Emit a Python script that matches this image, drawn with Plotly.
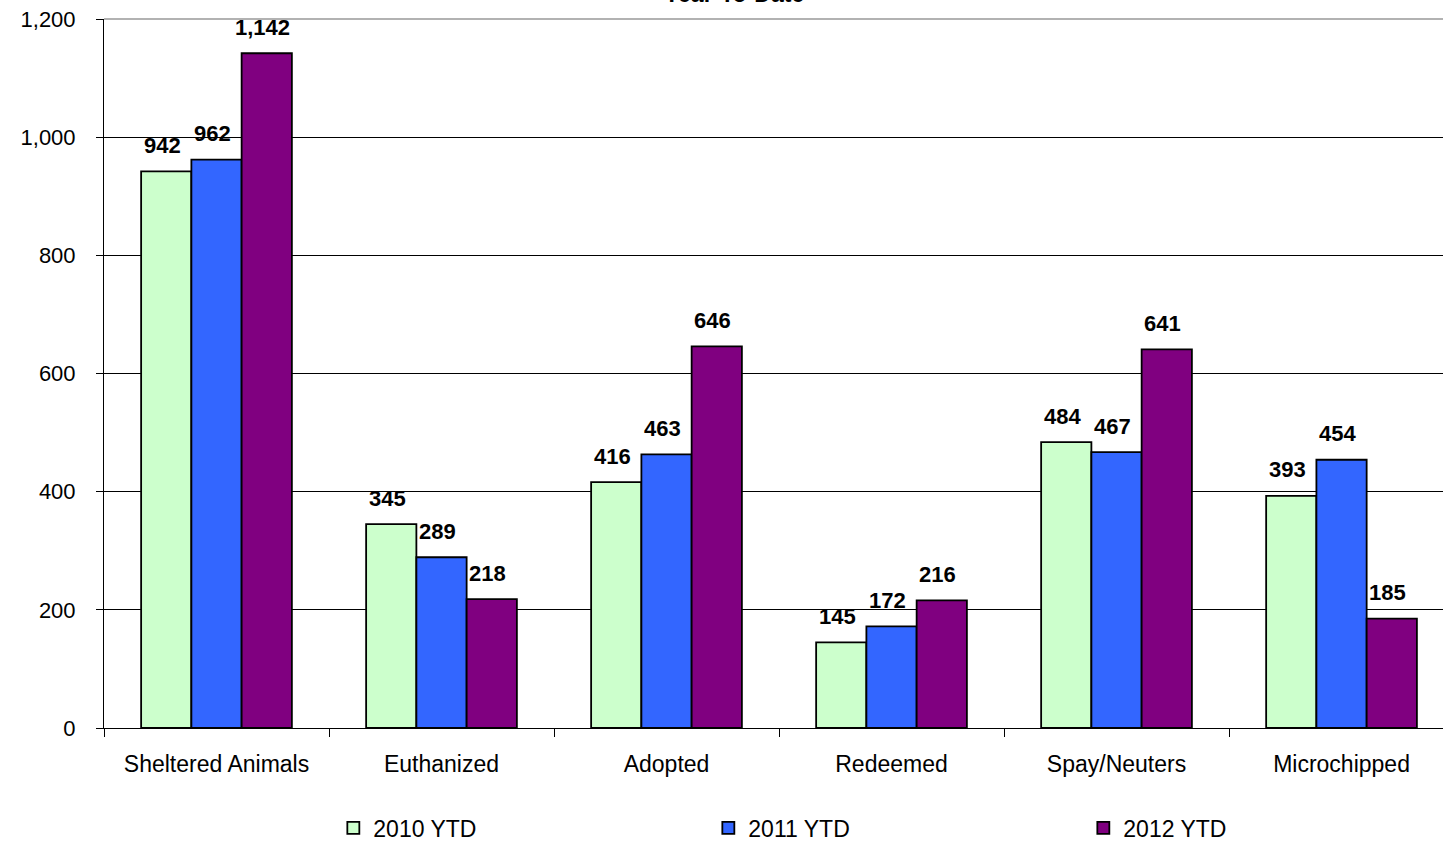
import plotly.graph_objects as go

categories = ["Sheltered Animals", "Euthanized", "Adopted", "Redeemed", "Spay/Neuters", "Microchipped"]
series_names = ["2010 YTD", "2011 YTD", "2012 YTD"]
values_2010 = [942, 345, 416, 145, 484, 393]
values_2011 = [962, 289, 463, 172, 467, 454]
values_2012 = [1142, 218, 646, 216, 641, 185]
colors = ["#CCFFCC", "#3366FF", "#800080"]
y_ticks = [0, 200, 400, 600, 800, 1000, 1200]

W, H = 1443, 842
ML, MR, MT, MB = 104, 0, 19, 114
BARGAP = 0.33
X_RANGE = [-0.5, 5.451]

plot_w = W - ML - MR
plot_h = H - MT - MB
cat_px = plot_w / (X_RANGE[1] - X_RANGE[0])
bar_px = cat_px * (1 - BARGAP) / 3

fig = go.Figure()
annotations = []
all_vals = [values_2010, values_2011, values_2012]
for i, (name, vals, col) in enumerate(zip(series_names, all_vals, colors)):
    fig.add_trace(go.Bar(
        x=categories, y=vals, name=name,
        marker=dict(color=col, line=dict(color="black", width=1.8)),
    ))
    for c, v in zip(categories, vals):
        annotations.append(dict(
            x=c, y=v, xref="x", yref="y", text=f"<b>{v:,}</b>", showarrow=False,
            xanchor="center", yanchor="middle",
            xshift=(i - 1) * bar_px - 4, yshift=26,
            font=dict(family="Liberation Sans, Arial", size=22, color="black"),
        ))

annotations.append(dict(text="<b>Year-To-Date</b>", xref="paper", yref="paper",
                        x=(734 - ML) / plot_w, y=1, xanchor="center", yanchor="bottom",
                        yshift=10, showarrow=False,
                        font=dict(family="Liberation Sans, Arial", size=23, color="black")))

fig.update_layout(
    width=W, height=H,
    margin=dict(l=ML, r=MR, t=MT, b=MB, autoexpand=False),
    barmode="group", bargap=BARGAP, bargroupgap=0,
    plot_bgcolor="white", paper_bgcolor="white",
    font=dict(family="Liberation Sans, Arial", size=22, color="black"),
    showlegend=True,
    legend=dict(orientation="h", xref="container", yref="container",
                x=0.231, y=(H - 828) / H, xanchor="left", yanchor="middle",
                entrywidth=330, entrywidthmode="pixels",
                font=dict(size=23), traceorder="normal"),
    xaxis=dict(range=X_RANGE, showline=True, linecolor="black", linewidth=1,
               ticks="outside", tickson="boundaries", ticklen=8, tickcolor="black",
               tickfont=dict(size=23), ticklabelstandoff=15, tickangle=0),
    yaxis=dict(range=[0, 1200], tickvals=y_ticks, tickformat=",d",
               showgrid=True, gridcolor="black", gridwidth=1,
               showline=True, linecolor="black", linewidth=1,
               ticks="outside", ticklen=7, tickcolor="black",
               tickfont=dict(size=22), ticklabelstandoff=16, zeroline=False),
    shapes=[dict(type="line", xref="paper", yref="paper", x0=0, x1=1, y0=1, y1=1,
                 line=dict(color="#999999", width=1.5))],
    annotations=annotations,
)

fig.write_html("out.html", config={"displayModeBar": False},
               post_script="document.body.style.margin='0';document.body.style.overflow='hidden';")
